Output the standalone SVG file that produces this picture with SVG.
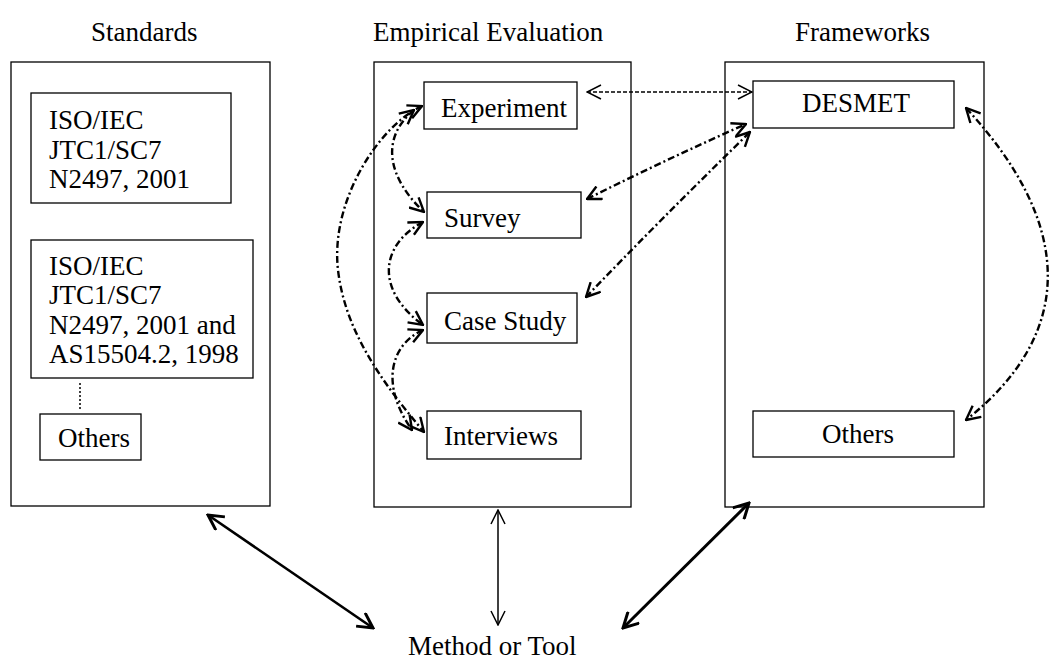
<svg xmlns="http://www.w3.org/2000/svg" width="1055" height="663" viewBox="0 0 1055 663">
<style>
  text { font-family: "Liberation Serif", "Times New Roman", serif; font-size: 27px; fill: #000; }
  .box { fill: #fff; stroke: #000; stroke-width: 1.3; }
  .dash { fill: none; stroke: #000; stroke-width: 2.4; stroke-dasharray: 7 3 2 3; }
  .fine { fill: none; stroke: #000; stroke-width: 1.3; stroke-dasharray: 4 2; }
  .solid { fill: none; stroke: #000; }
</style>
<defs>
  <marker id="ah" viewBox="0 0 16 16" refX="15" refY="8" markerWidth="16" markerHeight="16" markerUnits="userSpaceOnUse" orient="auto-start-reverse">
    <path d="M1,1 L15,8 L1,15" fill="none" stroke="#000" stroke-width="2.4"/>
  </marker>
  <marker id="ahf" viewBox="0 0 16 16" refX="15" refY="8" markerWidth="16" markerHeight="16" markerUnits="userSpaceOnUse" orient="auto-start-reverse">
    <path d="M1,1 L15,8 L1,15" fill="none" stroke="#000" stroke-width="1.5"/>
  </marker>
  <marker id="ahb" viewBox="0 0 18 18" refX="16" refY="9" markerWidth="18" markerHeight="18" markerUnits="userSpaceOnUse" orient="auto-start-reverse">
    <path d="M1,1 L16,9 L1,17" fill="none" stroke="#000" stroke-width="3"/>
  </marker>
</defs>
<rect width="1055" height="663" fill="#fff"/>

<g id="standards">
  <text x="91" y="41">Standards</text>
  <rect class="box" x="11" y="62" width="259" height="444"/>
  <g id="iso1">
    <rect class="box" x="31" y="93" width="200" height="110"/>
    <text x="49" y="129">ISO/IEC</text>
    <text x="49" y="158.5">JTC1/SC7</text>
    <text x="49" y="188">N2497, 2001</text>
  </g>
  <g id="iso2">
    <rect class="box" x="31" y="240" width="222" height="138"/>
    <text x="49" y="275">ISO/IEC</text>
    <text x="49" y="304">JTC1/SC7</text>
    <text x="49" y="333.5">N2497, 2001 and</text>
    <text x="49" y="363">AS15504.2, 1998</text>
  </g>
  <g id="std-others">
    <rect class="box" x="40" y="414" width="101" height="46"/>
    <text x="58" y="447">Others</text>
  </g>
</g>

<g id="empirical">
  <text x="373" y="41">Empirical Evaluation</text>
  <rect class="box" x="374" y="62" width="257" height="445"/>
  <g id="experiment">
    <rect class="box" x="424" y="82" width="153" height="47"/>
    <text x="441" y="117">Experiment</text>
  </g>
  <g id="survey">
    <rect class="box" x="427" y="192" width="154" height="46"/>
    <text x="444" y="227">Survey</text>
  </g>
  <g id="casestudy">
    <rect class="box" x="427" y="293" width="150" height="50"/>
    <text x="444" y="330">Case Study</text>
  </g>
  <g id="interviews">
    <rect class="box" x="427" y="411" width="154" height="48"/>
    <text x="444" y="445">Interviews</text>
  </g>
</g>

<g id="frameworks">
  <text x="795" y="41">Frameworks</text>
  <rect class="box" x="725" y="62" width="259" height="445"/>
  <g id="desmet">
    <rect class="box" x="753" y="81" width="201" height="47"/>
    <text x="802" y="112">DESMET</text>
  </g>
  <g id="fw-others">
    <rect class="box" x="753" y="411" width="201" height="46"/>
    <text x="822" y="443">Others</text>
  </g>
</g>

<g id="method">
  <text x="408" y="655">Method or Tool</text>
</g>

<g id="connectors">
  <line x1="80" y1="383" x2="80" y2="410" stroke="#000" stroke-width="1.5" stroke-dasharray="2 2"/>
  <path class="dash" d="M422,106 C380,125 330,200 338,270 C345,330 380,380 424,432" marker-start="url(#ah)" marker-end="url(#ah)"/>
  <path class="dash" d="M414,110 C378,140 390,180 424,212" marker-start="url(#ah)" marker-end="url(#ah)"/>
  <path class="dash" d="M423,222 C380,245 375,290 423,325" marker-start="url(#ah)" marker-end="url(#ah)"/>
  <path class="dash" d="M423,330 C390,345 380,385 412,430" marker-start="url(#ah)" marker-end="url(#ah)"/>
  <path class="fine" d="M587,92 L752,92" marker-start="url(#ahf)" marker-end="url(#ahf)"/>
  <path class="dash" d="M587,199 Q665,160 746,124" marker-start="url(#ah)" marker-end="url(#ah)"/>
  <path class="dash" d="M586,297 Q660,220 750,132" marker-start="url(#ah)" marker-end="url(#ah)"/>
  <path class="dash" d="M966,108 C1070,220 1080,330 966,420" marker-start="url(#ah)" marker-end="url(#ah)"/>
  <path class="solid" stroke-width="2.6" d="M208,515 L373,628" marker-start="url(#ahb)" marker-end="url(#ahb)"/>
  <path class="solid" stroke-width="1.5" d="M498,510 L498,625" marker-start="url(#ahf)" marker-end="url(#ahf)"/>
  <path class="solid" stroke-width="3" d="M749,503 L623,628" marker-start="url(#ahb)" marker-end="url(#ahb)"/>
</g>
</svg>
